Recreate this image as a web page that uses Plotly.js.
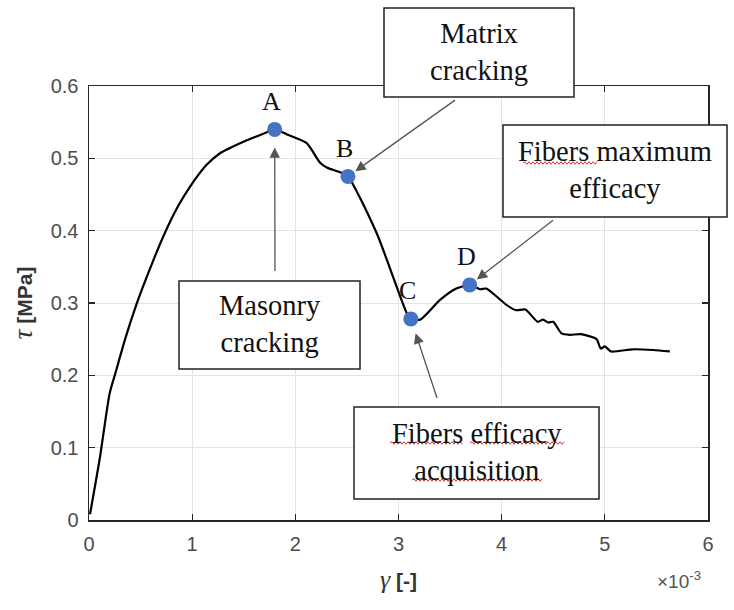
<!DOCTYPE html>
<html>
<head>
<meta charset="utf-8">
<script src="https://cdn.plot.ly/plotly-3.0.1.min.js"></script>
<style>html,body{margin:0;padding:0;background:#fff}#chart{width:734px;height:610px}</style>
</head>
<body>
<div id="chart"></div>
<script>
// shear strain (x1e-3) and shear stress (MPa)
const gamma = [0.01, 0.107, 0.20, 0.26, 0.35, 0.46, 0.56, 0.72, 0.86, 0.98, 1.14, 1.27, 1.53, 1.69, 1.80,
  1.92, 2.11, 2.24, 2.31, 2.43, 2.51, 2.79, 3.08, 3.12, 3.21, 3.40, 3.56, 3.69,
  3.79, 3.85, 3.95, 4.05, 4.14, 4.23, 4.35, 4.40, 4.45, 4.50, 4.58, 4.66, 4.77, 4.92, 4.96, 5.00, 5.06, 5.27, 5.47, 5.63];
const tau = [0.008, 0.0875, 0.175, 0.205, 0.250, 0.298, 0.336, 0.392, 0.433, 0.461, 0.491, 0.507, 0.525, 0.534, 0.540,
  0.533, 0.521, 0.494, 0.487, 0.481, 0.475, 0.396, 0.286, 0.278, 0.277, 0.304, 0.320, 0.325,
  0.319, 0.320, 0.309, 0.297, 0.290, 0.291, 0.274, 0.277, 0.273, 0.274, 0.258, 0.256, 0.257, 0.250, 0.237, 0.240, 0.233, 0.236, 0.235, 0.233];

// key points
const keyLabels = ['A', 'B', 'C', 'D'];
const keyGamma = [1.80, 2.51, 3.12, 3.69];
const keyTau = [0.540, 0.475, 0.278, 0.325];

// callouts
const boxTexts = ['Masonry<br>cracking', 'Matrix<br>cracking', 'Fibers efficacy<br>acquisition', 'Fibers maximum<br>efficacy'];

const xTicks = [0, 1, 2, 3, 4, 5, 6];
const yTicks = [0, 0.1, 0.2, 0.3, 0.4, 0.5, 0.6];

// plot-area geometry (pixels) used only for placing the call-out boxes
const L = 89, R = 708, T = 86, B = 520;
const px = v => (v - L) / (R - L);
const py = v => (B - v) / (B - T);

const serif = 'Liberation Serif, Times New Roman, serif';
const sans = 'Liberation Sans, Arial, sans-serif';
const boxGeom = [ // [x0, x1, y0, y1] in page pixels
  [179, 360, 281, 369],
  [384, 574, 8, 97],
  [354, 599, 407, 499],
  [503, 727, 125, 217]
];
// arrow tails (page pixels) and standoffs for A, B, C, D
const arrowTail = [[275, 281], [458, 98], [440, 407], [556, 218]];
const arrowStand = [18, 9, 15, 9];
const arrowTarget = [0, 1, 2, 3];

const shapes = [];
const annotations = [];
boxTexts.forEach((t, i) => {
  const g = boxGeom[i];
  shapes.push({
    type: 'rect', xref: 'paper', yref: 'paper', layer: 'above',
    x0: px(g[0]), x1: px(g[1]), y0: py(g[3]), y1: py(g[2]),
    line: {color: '#222', width: 1.5}, fillcolor: '#fff'
  });
  annotations.push({
    xref: 'paper', yref: 'paper', x: px((g[0] + g[1]) / 2), y: py((g[2] + g[3]) / 2 - 1),
    xanchor: 'center', yanchor: 'middle', showarrow: false,
    text: t, align: 'center',
    font: {family: serif, size: 28.5, color: '#111'}
  });
});
// mapping data -> pixel for arrow offsets
const dx = v => L + v / 6 * (R - L);
const dy = v => B - v / 0.6 * (B - T);
arrowTarget.forEach((k, i) => {
  const tail = arrowTail[i];
  annotations.push({
    x: keyGamma[k], y: keyTau[k], xref: 'x', yref: 'y', text: ' ',
    showarrow: true, arrowhead: 2, arrowsize: 1.6, arrowwidth: 1.3, arrowcolor: '#555',
    ax: tail[0] - dx(keyGamma[k]), ay: tail[1] - dy(keyTau[k]), standoff: arrowStand[i]
  });
});
keyLabels.forEach((lab, k) => {
  annotations.push({
    x: keyGamma[k], y: keyTau[k], xref: 'x', yref: 'y', text: lab, showarrow: false,
    yshift: 28, xshift: -3, font: {family: serif, size: 26, color: '#111'}
  });
});
annotations.push({
  xref: 'paper', yref: 'paper', x: px(679), y: py(580), xanchor: 'center', yanchor: 'middle',
  showarrow: false, text: '×10<sup>-3</sup>', font: {family: sans, size: 19, color: '#555'}
});

// red squiggly underlines (spell-check marks in the source image)
function squiggle(x0, x1, y) {
  let d = 'M' + px(x0) + ',' + py(y);
  let up = true;
  for (let x = x0 + 2; x <= x1; x += 2) {
    d += ' L' + px(x) + ',' + py(y + (up ? -1.3 : 1.3));
    up = !up;
  }
  return {type: 'path', xref: 'paper', yref: 'paper', layer: 'above', path: d, line: {color: '#e03030', width: 1}};
}
shapes.push(
  squiggle(523, 597, 163),
  squiggle(390, 462, 443),
  squiggle(470, 565, 443),
  squiggle(412, 543, 480)
);

const traces = [
  {x: gamma, y: tau, mode: 'lines', line: {color: '#000', width: 2.2, shape: 'spline', smoothing: 0.6}, hoverinfo: 'skip'},
  {x: keyGamma, y: keyTau, mode: 'markers', marker: {color: '#4472C4', size: 15}, hoverinfo: 'skip'}
];

const axisCommon = {
  showline: true, mirror: 'ticks', linecolor: '#262626', linewidth: 1.5,
  ticks: 'inside', ticklen: 6, tickwidth: 1.2, tickcolor: '#262626',
  showgrid: true, gridcolor: '#e3e3e3', gridwidth: 1, zeroline: false,
  ticklabelstandoff: 5,
  tickfont: {family: sans, size: 20, color: '#4d4d4d'}
};

const layout = {
  width: 734, height: 610, showlegend: false,
  paper_bgcolor: '#fff', plot_bgcolor: '#fff',
  margin: {l: L, r: 734 - R, t: T, b: 610 - B},
  xaxis: Object.assign({}, axisCommon, {
    range: [0, 6], tickvals: xTicks, ticktext: xTicks.map(String),
    title: {text: '<span style="font-family:Liberation Serif;font-size:26px"><i>γ</i></span> <b>[-]</b>', standoff: 20, font: {family: sans, size: 21, color: '#333'}}
  }),
  yaxis: Object.assign({}, axisCommon, {
    range: [0, 0.6], tickvals: yTicks, ticktext: yTicks.map(String),
    title: {text: '<span style="font-family:Liberation Serif;font-size:28px"><i>τ</i></span> <b>[MPa]</b>', standoff: 12, font: {family: sans, size: 21, color: '#333'}}
  }),
  annotations: annotations,
  shapes: shapes
};

Plotly.newPlot('chart', traces, layout, {displayModeBar: false, staticPlot: true});
</script>
</body>
</html>
